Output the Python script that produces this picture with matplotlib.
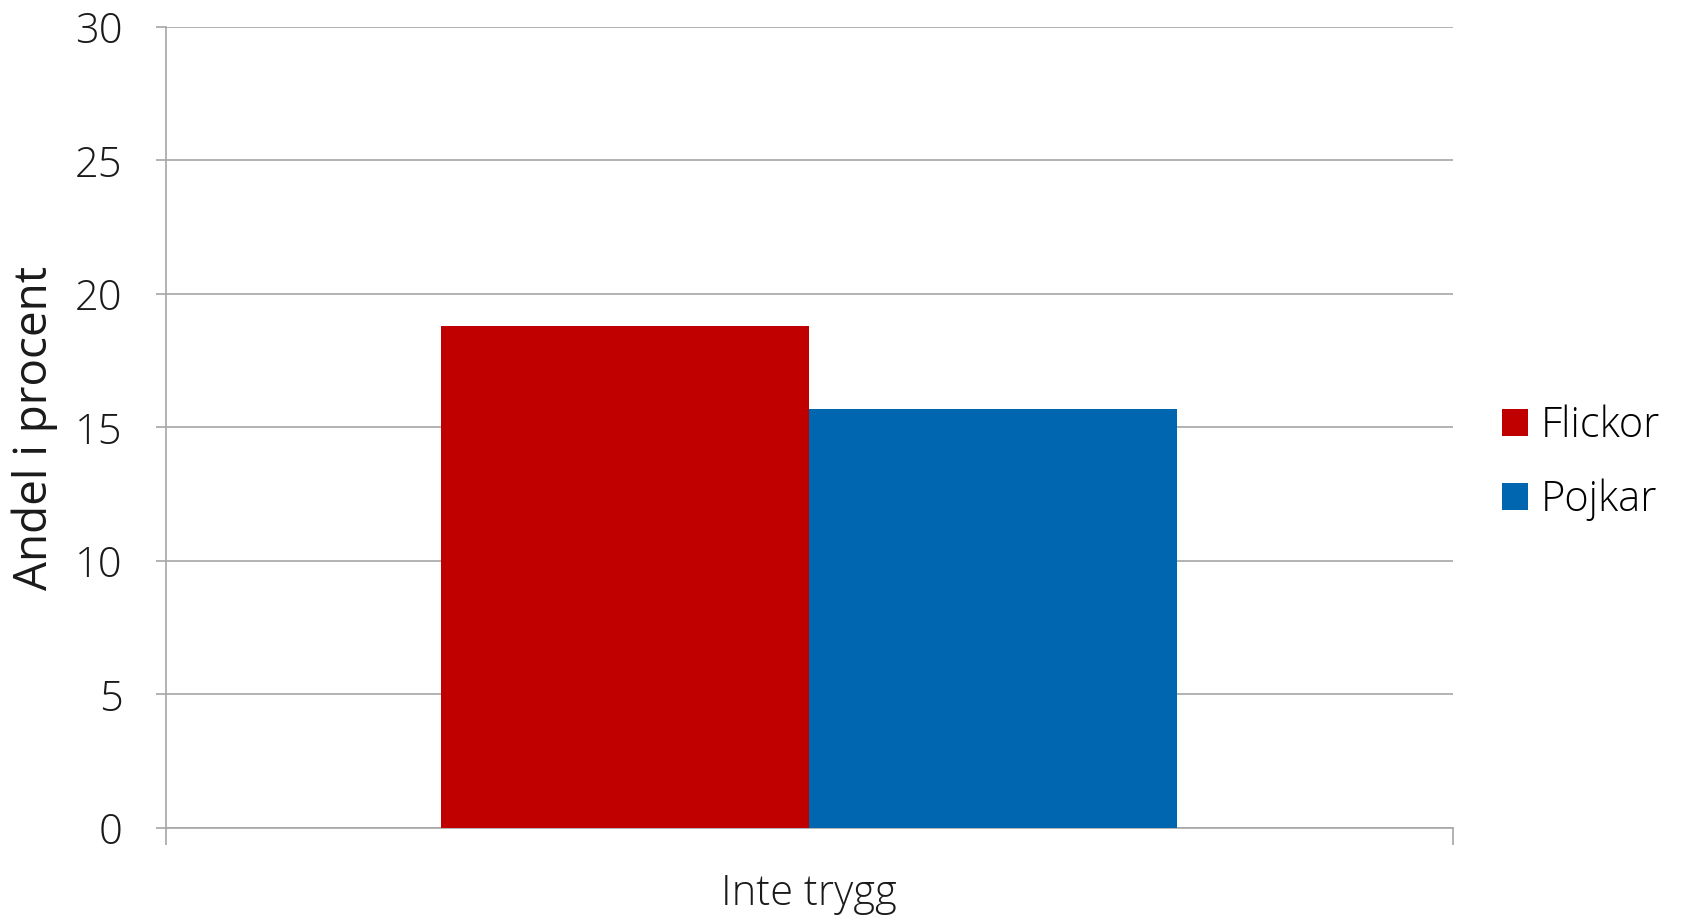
import matplotlib
matplotlib.use("Agg")
import matplotlib.pyplot as plt

# data
categories = ["Inte trygg"]
series_names = ["Flickor", "Pojkar"]
flickor = [18.8]
pojkar = [15.7]
colors = ["#C00000", "#0066B0"]

plt.rcParams['font.family'] = ['Open Sans', 'DejaVu Sans']
plt.rcParams['font.weight'] = 'light'

fig = plt.figure(figsize=(16.86, 9.16), dpi=100)
ax = fig.add_axes([165.6 / 1686, 1 - 828 / 916, (1452.7 - 165.6) / 1686, (828 - 26.9) / 916])

w = 0.2857
x = list(range(len(categories)))
ax.bar([i - w / 2 for i in x], flickor, width=w, color=colors[0], label=series_names[0], zorder=3)
ax.bar([i + w / 2 for i in x], pojkar, width=w, color=colors[1], label=series_names[1], zorder=3)

ax.set_xlim(-0.5, len(categories) - 0.5)
ax.set_ylim(0, 30)
ax.set_yticks(range(0, 31, 5))
ax.yaxis.grid(True, color="#A6A6A6", linewidth=1.2, zorder=0)

for s in ["top", "right"]:
    ax.spines[s].set_visible(False)
for s in ["left", "bottom"]:
    ax.spines[s].set_color("#A6A6A6")
    ax.spines[s].set_linewidth(1.2)

ax.tick_params(axis="y", length=7, width=1.2, color="#A6A6A6", labelsize=30, pad=24, labelcolor="#1a1a1a")
# category boundary ticks on x axis
ax.set_xticks([-0.5, len(categories) - 0.5])
ax.set_xticklabels(["", ""])
ax.set_xticks(x, minor=True)
ax.set_xticklabels(categories, minor=True)
ax.tick_params(axis="x", which="major", length=12, width=1.2, color="#A6A6A6")
ax.tick_params(axis="x", which="minor", length=0, labelsize=30, pad=32, labelcolor="#1a1a1a")

ax.set_ylabel("Andel i procent", fontsize=33, color="#1a1a1a", labelpad=12)

ax.legend(loc="center left", bbox_to_anchor=(1.009, 0.456), frameon=False, fontsize=30,
          handlelength=0.62, handleheight=0.62, handletextpad=0.32, labelspacing=0.75,
          borderpad=0.4)

fig.savefig("out.png", dpi=100)
